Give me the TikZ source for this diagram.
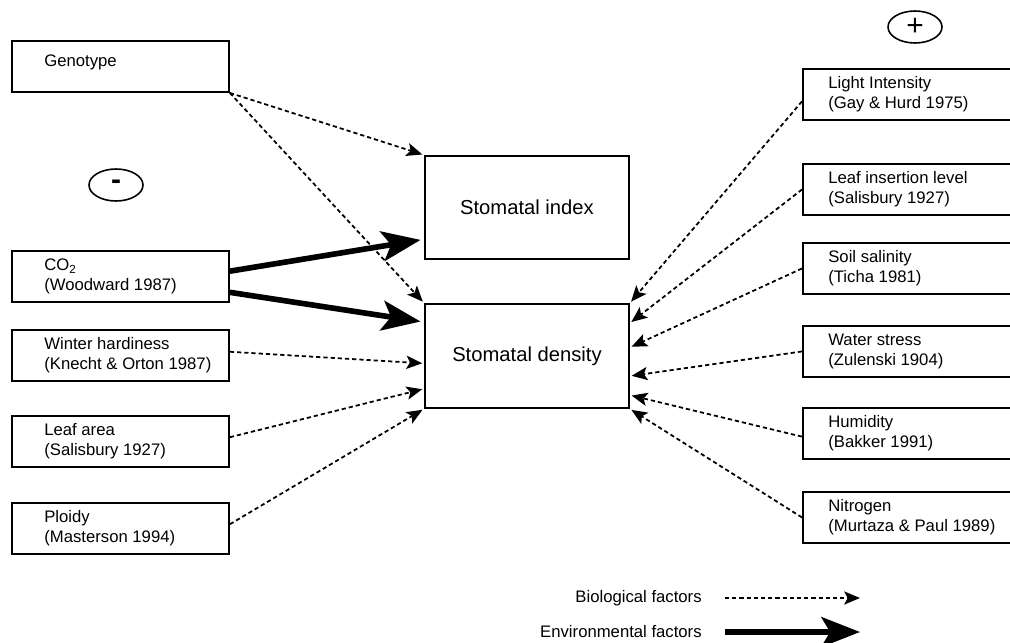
\documentclass[tikz,border=0pt]{standalone}
\usepackage{fontspec}
\setmainfont{Liberation Sans}
\usetikzlibrary{arrows.meta,positioning,shapes.geometric,calc}

\tikzset{
  factor/.style={draw, line width=1.1pt, minimum width=4.34cm, minimum height=1.02cm, anchor=north west, inner sep=0pt},
  outcome/.style={draw, line width=1.1pt, minimum width=4.08cm, minimum height=2.07cm, anchor=north west, font=\fontsize{11.5}{14}\selectfont},
  ftext/.style={anchor=west, align=left, inner sep=0pt, font=\fontsize{9.5}{11.4}\selectfont},
  sign/.style={draw, ellipse, line width=0.9pt, minimum width=1.08cm, minimum height=0.64cm, inner sep=0pt, font=\fontsize{17}{17}\selectfont},
  bio/.style={line width=1pt, dash pattern=on 2.4pt off 1.7pt, shorten >=1pt, -{Stealth[length=9pt,width=7.5pt,inset=2pt]}},
  env/.style={line width=3.2pt, shorten >=2pt, -{Stealth[length=22pt,width=17pt,inset=5pt]}},
}

\begin{document}
\begin{tikzpicture}[x=0.02cm, y=-0.02cm]
\clip (0,0) rectangle (1010,642);

% signs
\node[sign] (minus) at (116,185) {\textbf{-}};
\node[sign] (plus) at (915,27) {+};

% left factors
\node[factor] (geno) at (11,40) {};
\node[ftext, right=0.66cm of geno.west, yshift=0.09cm] {Genotype};
\node[factor] (co2) at (11,250) {};
\node[ftext, right=0.66cm of co2.west] {CO\textsubscript{2}\\(Woodward 1987)};
\node[factor] (winter) at (11,329) {};
\node[ftext, right=0.66cm of winter.west] {Winter hardiness\\(Knecht \& Orton 1987)};
\node[factor] (area) at (11,415) {};
\node[ftext, right=0.66cm of area.west] {Leaf area\\(Salisbury 1927)};
\node[factor] (ploidy) at (11,502) {};
\node[ftext, right=0.66cm of ploidy.west] {Ploidy\\(Masterson 1994)};

% right factors
\node[factor] (light) at (802,68) {};
\node[ftext, right=0.52cm of light.west] {Light Intensity\\(Gay \& Hurd 1975)};
\node[factor] (insert) at (802,163) {};
\node[ftext, right=0.52cm of insert.west] {Leaf insertion level\\(Salisbury 1927)};
\node[factor] (soil) at (802,242) {};
\node[ftext, right=0.52cm of soil.west] {Soil salinity\\(Ticha 1981)};
\node[factor] (water) at (802,325) {};
\node[ftext, right=0.52cm of water.west] {Water stress\\(Zulenski 1904)};
\node[factor] (humid) at (802,407) {};
\node[ftext, right=0.52cm of humid.west] {Humidity\\(Bakker 1991)};
\node[factor] (nitro) at (802,491) {};
\node[ftext, right=0.52cm of nitro.west] {Nitrogen\\(Murtaza \& Paul 1989)};

% outcomes
\node[outcome] (index) at (424,155) {Stomatal index};
\node[outcome, minimum height=2.08cm] (dens) at (424,303) {Stomatal density};

% left connectors
\draw[bio] (geno.south east) -- (index.north west);
\draw[bio] (geno.south east) -- (dens.north west);
\draw[env] ($(co2.north east)!0.4!(co2.south east)$) -- ($(index.north west)!0.8!(index.south west)$);
\draw[env] ($(co2.north east)!0.8!(co2.south east)$) -- ($(dens.north west)!0.18!(dens.south west)$);
\draw[bio] ($(winter.north east)!0.43!(winter.south east)$) -- ($(dens.north west)!0.57!(dens.south west)$);
\draw[bio] ($(area.north east)!0.42!(area.south east)$) -- ($(dens.north west)!0.81!(dens.south west)$);
\draw[bio] ($(ploidy.north east)!0.42!(ploidy.south east)$) -- (dens.south west);

% right connectors
\draw[bio] ($(light.north west)!0.63!(light.south west)$) -- (dens.north east);
\draw[bio] (insert.west) -- ($(dens.north east)!0.19!(dens.south east)$);
\draw[bio] (soil.west) -- ($(dens.north east)!0.42!(dens.south east)$);
\draw[bio] (water.west) -- ($(dens.north east)!0.69!(dens.south east)$);
\draw[bio] ($(humid.north west)!0.56!(humid.south west)$) -- ($(dens.north east)!0.87!(dens.south east)$);
\draw[bio] (nitro.west) -- (dens.south east);

% legend
\node[ftext, anchor=east] (biolbl) at (702,598) {Biological factors};
\node[ftext, anchor=east] (envlbl) at (702,632) {Environmental factors};
\coordinate (bioA) at (725,598);
\coordinate (bioB) at (860,598);
\coordinate (envA) at (725,632);
\coordinate (envB) at (860,632);
\draw[bio, shorten >=0pt] (bioA) -- (bioB);
\draw[env, shorten >=0pt] (envA) -- (envB);
\end{tikzpicture}
\end{document}
